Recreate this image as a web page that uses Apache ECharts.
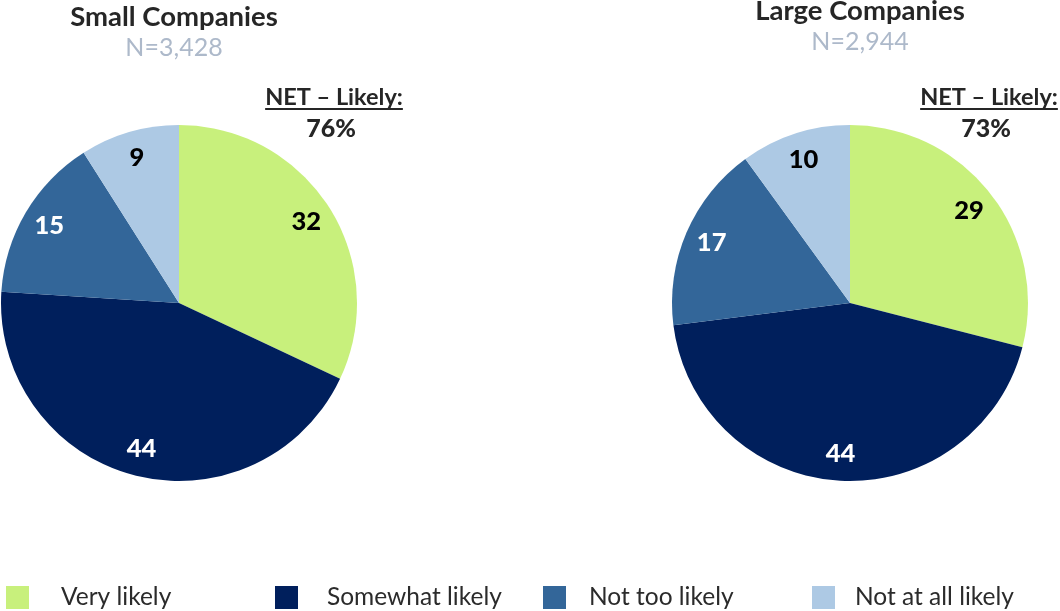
<!DOCTYPE html>
<html>
<head>
<meta charset="utf-8">
<script src="https://cdn.jsdelivr.net/npm/echarts@6/dist/echarts.min.js"></script>
<style>
  html, body { margin: 0; padding: 0; background: #ffffff; }
  #chart { width: 1060px; height: 611px; }
</style>
</head>
<body>
<div id="chart"></div>
<script>
// Response categories (clockwise from 12 o'clock)
const categories = ['Very likely', 'Somewhat likely', 'Not too likely', 'Not at all likely'];
// Percent of respondents per category
const smallValues = [32, 44, 15, 9];
const largeValues = [29, 44, 17, 10];
// Panel headings
const panelTitles = ['Small Companies', 'Large Companies'];
const sampleSizes = ['N=3,428', 'N=2,944'];
const netLabel = 'NET \u2013 Likely:';
const netValues = ['76%', '73%'];

const colors = ['#C8F07C', '#001F5C', '#336699', '#ADC9E4'];
const labelColors = ['#000000', '#ffffff', '#ffffff', '#000000'];
const FONT = 'Lato, "Open Sans", sans-serif';

const chart = echarts.init(document.getElementById('chart'), null, { renderer: 'canvas' });

const R = 178;
const centers = [[179, 303], [850, 303]];

// Filled pie without labels
function basePie(values, center) {
  return {
    type: 'pie',
    center: center,
    radius: [0, R],
    startAngle: 90,
    clockwise: true,
    silent: true,
    animation: false,
    label: { show: false },
    labelLine: { show: false },
    emphasis: { disabled: true },
    data: values.map((v, i) => ({
      name: categories[i],
      value: v,
      itemStyle: { color: colors[i] }
    }))
  };
}

// Transparent ring carrying the value labels near the rim
function labelRing(values, center) {
  return {
    type: 'pie',
    center: center,
    radius: [R * 0.66, R],
    startAngle: 90,
    clockwise: true,
    silent: true,
    animation: false,
    label: {
      show: true,
      position: 'inside',
      formatter: '{c}',
      fontFamily: FONT,
      fontWeight: 900,
      fontSize: 25.5
    },
    labelLine: { show: false },
    emphasis: { disabled: true },
    data: values.map((v, i) => ({
      name: categories[i],
      value: v,
      itemStyle: { color: 'rgba(0,0,0,0)' },
      label: { color: labelColors[i] }
    }))
  };
}

// Measure text so the NET heading can be underlined
const measureCtx = document.createElement('canvas').getContext('2d');
function textWidth(str, font) {
  measureCtx.font = font;
  return measureCtx.measureText(str).width;
}

const headFont = 'bold 23.5px ' + FONT;
const pctFont = '900 25px ' + FONT;
const netWidth = textWidth(netLabel, headFont);

const titleSpecs = [
  { cx: 174, ty: 17, ny: 48, netX: 334, netY: 97, pctX: 331, pctY: 129 },
  { cx: 860, ty: 11, ny: 42, netX: 989, netY: 97, pctX: 986, pctY: 129 }
];

const graphics = [];
titleSpecs.forEach((s, i) => {
  graphics.push({
    type: 'text', x: s.cx, y: s.ty, silent: true,
    style: { text: panelTitles[i], textAlign: 'center', textVerticalAlign: 'middle',
             font: 'bold 27.5px ' + FONT, fill: '#262626' }
  });
  graphics.push({
    type: 'text', x: s.cx, y: s.ny, silent: true,
    style: { text: sampleSizes[i], textAlign: 'center', textVerticalAlign: 'middle',
             font: '25px ' + FONT, fill: '#ADB9CA' }
  });
  graphics.push({
    type: 'text', x: s.netX, y: s.netY, silent: true,
    style: { text: netLabel, textAlign: 'center', textVerticalAlign: 'middle',
             font: headFont, fill: '#262626' }
  });
  graphics.push({
    type: 'line', silent: true,
    shape: { x1: s.netX - netWidth / 2, y1: s.netY + 12, x2: s.netX + netWidth / 2, y2: s.netY + 12 },
    style: { stroke: '#262626', lineWidth: 2 }
  });
  graphics.push({
    type: 'text', x: s.pctX, y: s.pctY, silent: true,
    style: { text: netValues[i], textAlign: 'center', textVerticalAlign: 'middle',
             font: pctFont, fill: '#262626' }
  });
});

const legendLefts = [6, 275, 543, 812];
const legendTextGaps = [27, 24, 18, 15];
const legends = categories.map((name, i) => ({
  data: [name],
  left: legendLefts[i],
  top: 585,
  padding: 0,
  orient: 'horizontal',
  icon: 'rect',
  itemWidth: 23,
  itemHeight: 23,
  selectedMode: false,
  textStyle: {
    fontFamily: FONT,
    fontSize: 24.5,
    color: '#2b2b2b',
    padding: [0, 0, 0, legendTextGaps[i]]
  }
}));

chart.setOption({
  backgroundColor: '#ffffff',
  animation: false,
  legend: legends,
  graphic: graphics,
  series: [
    basePie(smallValues, centers[0]),
    basePie(largeValues, centers[1]),
    labelRing(smallValues, centers[0]),
    labelRing(largeValues, centers[1])
  ]
});
</script>
</body>
</html>
